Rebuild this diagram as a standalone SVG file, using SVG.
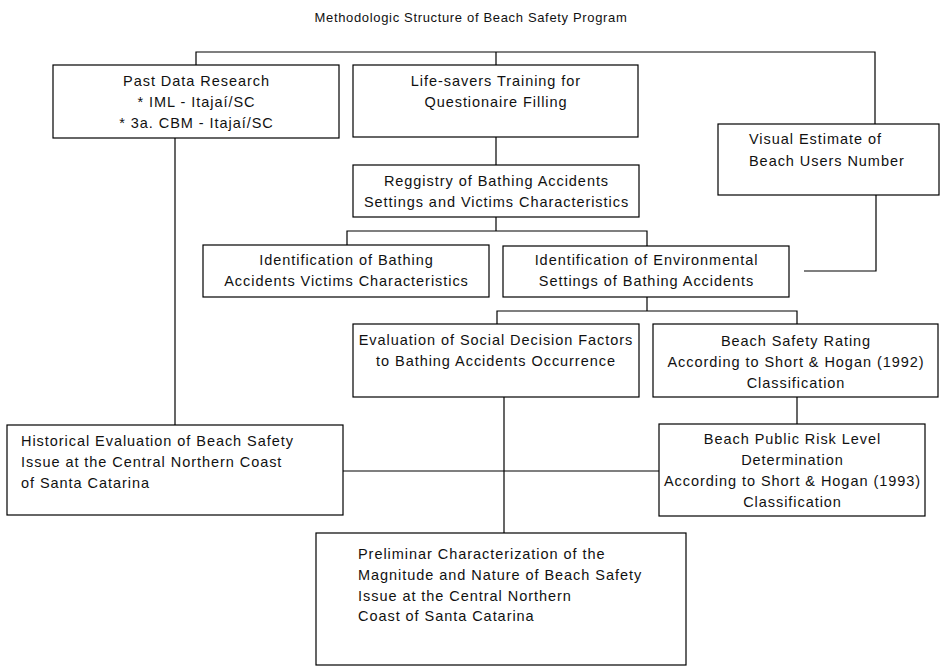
<svg xmlns="http://www.w3.org/2000/svg" width="941" height="667" viewBox="0 0 941 667">
<style>
.box{fill:#fff;stroke:#000;stroke-width:1.2}
.con{fill:none;stroke:#000;stroke-width:1.2}
text{font-family:"Liberation Sans",Arial,sans-serif;font-size:14.5px;letter-spacing:0.95px;fill:#111}
.c{text-anchor:middle}
.title{font-size:13px;letter-spacing:0.66px}
</style>
<rect width="941" height="667" fill="#fff"/>
<text class="title c" x="471" y="22">Methodologic Structure of Beach Safety Program</text>
<g id="connectors">
<path class="con" d="M196,65 V52 H875 V124"/>
<path class="con" d="M496,52 V65"/>
<path class="con" d="M496,137 V165"/>
<path class="con" d="M496,217 V231"/>
<path class="con" d="M347,245 V231 H647 V246"/>
<path class="con" d="M876,195 V271 H804"/>
<path class="con" d="M647,297 V311"/>
<path class="con" d="M497,324 V311 H797 V324"/>
<path class="con" d="M797,397 V424"/>
<path class="con" d="M175,138 V425"/>
<path class="con" d="M343,471 H659"/>
<path class="con" d="M504,397 V533"/>
</g>
<g id="past-data">
<rect class="box" x="53" y="65" width="286" height="73"/>
<text class="c" x="196.5" y="86">Past Data Research</text>
<text class="c" x="196.5" y="107">* IML - Itajaí/SC</text>
<text class="c" x="196.5" y="128">* 3a. CBM - Itajaí/SC</text>
</g>
<g id="life-savers">
<rect class="box" x="353" y="65" width="285" height="72"/>
<text class="c" x="496" y="86">Life-savers Training for</text>
<text class="c" x="496" y="107">Questionaire Filling</text>
</g>
<g id="visual-estimate">
<rect class="box" x="718" y="124" width="221" height="71"/>
<text x="749" y="144">Visual Estimate of</text>
<text x="749" y="166">Beach Users Number</text>
</g>
<g id="reggistry">
<rect class="box" x="353" y="165" width="286" height="52"/>
<text class="c" x="496.5" y="186">Reggistry of Bathing Accidents</text>
<text class="c" x="496.5" y="207">Settings and Victims Characteristics</text>
</g>
<g id="id-victims">
<rect class="box" x="203" y="245" width="286" height="52"/>
<text class="c" x="346.5" y="265">Identification of Bathing</text>
<text class="c" x="346.5" y="286">Accidents Victims Characteristics</text>
</g>
<g id="id-environmental">
<rect class="box" x="503" y="246" width="286" height="51"/>
<text class="c" x="646.5" y="265">Identification of Environmental</text>
<text class="c" x="646.5" y="286">Settings of Bathing Accidents</text>
</g>
<g id="social-factors">
<rect class="box" x="353" y="324" width="286" height="73"/>
<text class="c" x="496" y="345">Evaluation of Social Decision Factors</text>
<text class="c" x="496" y="366">to Bathing Accidents Occurrence</text>
</g>
<g id="safety-rating">
<rect class="box" x="653" y="324" width="285" height="73"/>
<text class="c" x="796" y="346">Beach Safety Rating</text>
<text class="c" x="796" y="367">According to Short &amp; Hogan (1992)</text>
<text class="c" x="796" y="388">Classification</text>
</g>
<g id="historical">
<rect class="box" x="7" y="425" width="336" height="90"/>
<text x="21" y="446">Historical Evaluation of Beach Safety</text>
<text x="21" y="467">Issue at the Central Northern Coast</text>
<text x="21" y="488">of Santa Catarina</text>
</g>
<g id="public-risk">
<rect class="box" x="659" y="424" width="266" height="92"/>
<text class="c" x="792.5" y="444">Beach Public Risk Level</text>
<text class="c" x="792.5" y="465">Determination</text>
<text class="c" x="792.5" y="486">According to Short &amp; Hogan (1993)</text>
<text class="c" x="792.5" y="507">Classification</text>
</g>
<g id="preliminar">
<rect class="box" x="316" y="533" width="370" height="132"/>
<text x="358" y="559">Preliminar Characterization of the</text>
<text x="358" y="580">Magnitude and Nature of Beach Safety</text>
<text x="358" y="601">Issue at the Central Northern</text>
<text x="358" y="621">Coast of Santa Catarina</text>
</g>
</svg>
